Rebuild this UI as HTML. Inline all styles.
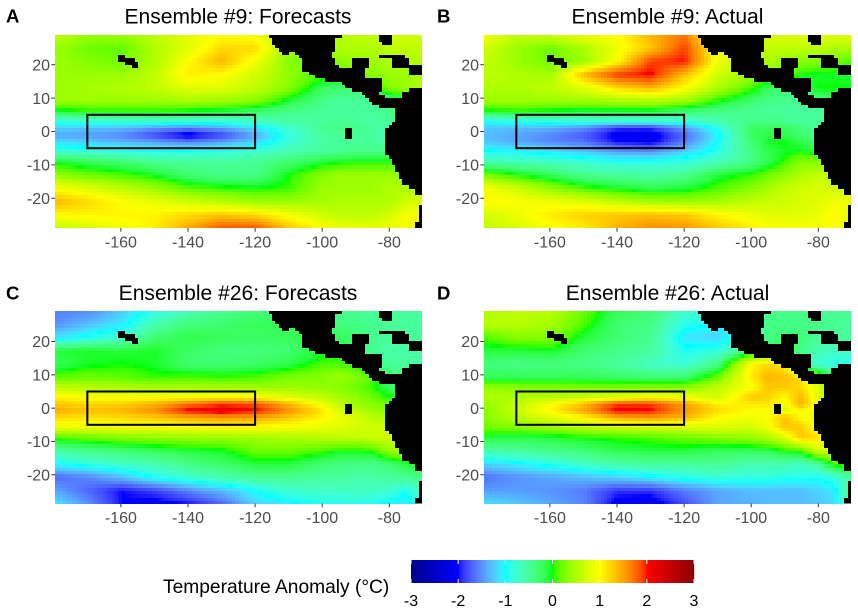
<!DOCTYPE html>
<html lang="en">
<head>
<meta charset="utf-8">
<title>Ensemble Temperature Anomaly Maps</title>
<style>
html,body{margin:0;padding:0;background:#fff;width:858px;height:616px;overflow:hidden}
svg{display:block;font-family:"Liberation Sans",Arial,sans-serif}
.title{font-size:21.05px;fill:#000;text-anchor:middle}
.tag{font-size:18.5px;font-weight:bold;fill:#000}
.tick-label{font-size:16px;fill:#4d4d4d}
.legend-label{font-size:16px;fill:#000;text-anchor:middle}
</style>
</head>
<body>
<svg id="chart" width="858" height="616" viewBox="0 0 858 616" xmlns="http://www.w3.org/2000/svg">
  <text class="tag" x="6" y="22.7">A</text>
  <text class="tag" x="437" y="22.7">B</text>
  <text class="tag" x="6" y="299.5">C</text>
  <text class="tag" x="437" y="299.5">D</text>
  <text class="title" x="238" y="23.3">Ensemble #9: Forecasts</text>
  <text class="title" x="667.5" y="23.3">Ensemble #9: Actual</text>
  <text class="title" x="238" y="300">Ensemble #26: Forecasts</text>
  <text class="title" x="667.5" y="300">Ensemble #26: Actual</text>
  <text x="163" y="593" font-size="19.2" fill="#000">Temperature Anomaly (°C)</text>
</svg>
<script>
// Sampled grid: longitudes and latitudes of each value below
const lons = [-180,-170,-160,-150,-140,-130,-120,-110,-100,-95,-90,-85,-80,-75,-70];
const lats = [29,25,21,17,13,9,6,3,1,-1,-3,-6,-9,-13,-17,-21,-25,-29];
const xTicks = [-160,-140,-120,-100,-80];
const yTicks = [20,10,0,-10,-20];
const legendTicks = [-3,-2,-1,0,1,2,3];
const colorValues = [-3,-2,-1,0,1,2,3];
const colorHex = ['#00008b','#0000ff','#00ffff','#00ff00','#ffff00','#ff0000','#8b0000'];
const boxLons = [-170,-120];
const boxLats = [5,-5];

const valuesA = [
[.6,.4,.4,.6,.8,1.0,.9,.5,.5,.5,.6,.6,.7,.7,.7],
[.4,.2,.15,.5,.8,1.2,1.2,.4,.4,.5,.5,.5,.6,.6,.6],
[.4,.3,.2,.5,1.0,1.4,.9,.3,.2,.3,.4,.4,.5,.5,.5],
[.4,.4,.4,.6,1.1,1.0,.7,.35,.1,.2,.3,.3,.4,.4,.5],
[.4,.45,.5,.6,.8,.8,.6,.3,-.2,-.3,-.3,-.2,.3,.4,.5],
[.4,.4,.4,.4,.45,.4,.3,-.1,-.4,-.5,-.5,-.45,-.4,-.3,0],
[-.1,0,0,0,-.05,-.1,-.25,-.4,-.5,-.5,-.5,-.5,-.4,-.3,-.1],
[-.85,-.8,-.75,-.75,-.8,-.8,-.7,-.55,-.5,-.45,-.5,-.55,-.5,-.4,-.3],
[-1.2,-1.25,-1.3,-1.45,-1.55,-1.4,-1.1,-.75,-.45,-.4,-.4,-.5,-.6,-.5,-.4],
[-1.4,-1.45,-1.55,-1.85,-2.15,-1.85,-1.4,-.85,-.5,-.45,-.45,-.5,-.6,-.5,-.4],
[-1.15,-1.25,-1.35,-1.45,-1.6,-1.45,-1.2,-.8,-.55,-.5,-.5,-.5,-.55,-.5,-.4],
[-.75,-.8,-.85,-.9,-.9,-.85,-.75,-.6,-.5,-.45,-.4,-.4,-.4,-.3,-.2],
[-.05,-.2,-.3,-.45,-.5,-.5,-.45,-.3,-.1,-.05,0,0,0,.1,.1],
[.35,.2,.1,-.05,-.3,-.4,-.4,0,.3,.4,.4,.4,.4,.4,.4],
[.95,.8,.6,.4,.15,.05,0,.05,.4,.4,.4,.4,.5,.5,.5],
[1.4,1.2,1.0,.85,.7,.55,.4,.4,.45,.5,.5,.5,.5,.7,.8],
[1.0,1.05,1.05,1.05,1.2,1.3,1.2,.95,.7,.6,.6,.6,.7,.95,.9],
[.6,.75,.9,1.1,1.45,1.85,1.85,1.3,1.0,.9,.85,.85,.9,.95,.9]
];
const valuesB = [
[.95,.6,.7,.9,1.0,1.4,1.7,.8,.6,.75,.75,.8,.8,.8,.8],
[.7,.4,.2,.5,.9,1.3,1.9,.9,.6,.6,.6,.6,.6,.5,.5],
[.6,.4,.2,.4,1.0,1.9,2.0,.9,.5,.5,.4,.3,.3,.2,.1],
[.6,.5,.45,1.4,1.95,2.05,1.35,.7,.4,.3,.2,0,-.05,-.05,-.1],
[.5,.5,.6,.8,1.2,1.4,1.0,.5,.1,-.2,-.3,-.3,0,0,0],
[.4,.4,.4,.4,.45,.5,.4,0,-.3,-.4,-.45,-.45,-.4,-.3,-.2],
[-.05,0,-.05,-.1,-.1,-.1,-.3,-.4,-.45,-.5,-.5,-.5,-.5,-.4,-.3],
[-.95,-.9,-.85,-.85,-.85,-.85,-.8,-.6,-.4,-.4,-.45,-.5,-.5,-.4,-.3],
[-1.25,-1.3,-1.35,-1.5,-1.9,-1.9,-1.45,-.9,-.25,-.2,-.2,-.35,-.5,-.5,-.4],
[-1.3,-1.4,-1.55,-1.75,-2.1,-2.15,-1.7,-1.05,-.25,-.15,-.15,-.3,-.4,-.4,-.4],
[-1.25,-1.4,-1.55,-1.65,-2.0,-2.1,-1.6,-1.0,-.3,-.05,0,-.15,-.3,-.4,-.3],
[-.95,-1.0,-1.1,-1.25,-1.45,-1.5,-1.2,-.9,-.4,-.15,-.05,0,-.1,-.2,-.2],
[-.6,-.65,-.7,-.8,-.9,-.9,-.85,-.65,-.4,-.2,.05,.3,.3,.2,.1],
[.25,0,-.2,-.45,-.5,-.55,-.45,-.1,.05,.2,.35,.5,.6,.6,.6],
[.95,.7,.35,.1,-.05,-.15,-.1,.1,.3,.45,.6,.7,.75,.7,.7],
[1.05,.95,.9,.8,.6,.45,.4,.45,.6,.65,.7,.75,.8,.9,.9],
[.7,.9,1.1,1.25,1.3,1.35,1.3,1.05,.9,.8,.8,.8,.85,1.05,.8],
[.6,.75,.95,1.1,1.4,1.6,1.55,1.3,1.1,1.0,.95,.95,.95,1.0,.8]
];
const valuesC = [
[-1.6,-1.55,-1.25,-.9,-.65,-.45,-.35,-.3,-.35,-.4,-.45,-.5,-.5,-.5,-.5],
[-1.5,-1.3,-1.1,-.6,-.35,-.3,-.2,-.2,-.3,-.35,-.4,-.45,-.5,-.5,-.5],
[-1.15,-.95,-.75,-.3,-.15,-.2,-.25,-.2,-.1,-.2,-.3,-.4,-.5,-.5,-.5],
[-.1,-.05,-.1,-.05,-.25,-.35,-.35,-.3,-.1,-.1,-.2,-.45,-.55,-.55,-.55],
[-.2,-.05,0,-.05,-.3,-.3,-.25,-.15,.1,.1,0,-.4,-.5,-.5,-.5],
[.15,.2,.15,.05,.1,.05,.1,.25,.3,.4,.3,.15,-.2,-.4,-.4],
[.6,.55,.5,.45,.45,.45,.4,.4,.35,.3,.2,.05,-.2,-.3,-.3],
[1.05,.95,.95,.95,1.0,1.05,1.0,.8,.6,.45,.35,.2,0,-.1,-.2],
[1.3,1.2,1.25,1.4,1.7,1.9,1.85,1.4,.9,.6,.4,.3,.2,0,-.1],
[1.45,1.35,1.4,1.6,2.1,2.2,2.05,1.6,1.15,.75,.6,.4,.3,.2,.1],
[1.2,1.15,1.2,1.3,1.45,1.55,1.5,1.3,1.05,.9,.75,.55,.5,.3,.2],
[.9,.85,.9,.9,.95,1.0,1.0,.95,.85,.8,.75,.7,.65,.5,.3],
[.1,.2,.3,.35,.4,.4,.45,.5,.55,.6,.6,.65,.7,.5,.3],
[-.55,-.4,-.3,-.2,-.1,-.05,.2,.2,.1,0,0,.05,.4,.5,.4],
[-1.0,-.85,-.7,-.6,-.4,-.25,-.1,-.1,-.3,-.35,-.4,-.4,-.3,-.1,0],
[-1.7,-1.55,-1.3,-.95,-.75,-.6,-.45,-.45,-.5,-.5,-.55,-.55,-.5,-.45,-.4],
[-1.4,-1.7,-2.0,-1.85,-1.55,-1.3,-1.0,-.75,-.7,-.7,-.7,-.7,-.75,-.95,-.7],
[-1.1,-1.5,-2.0,-2.1,-2.0,-1.7,-1.2,-1.05,-.95,-.95,-.9,-.95,-1.05,-1.1,-.8]
];
const valuesD = [
[.5,.6,.55,.2,-.2,-.3,-.7,-.8,-.6,-.4,-.4,-.4,-.45,-.45,-.45],
[.55,.55,.45,.1,-.3,-.4,-.9,-1.0,-.7,-.4,-.4,-.4,-.4,-.45,-.5],
[.1,.3,.3,-.1,-.3,-.45,-1.1,-1.2,-.7,-.4,-.3,-.3,-.5,-.5,-.5],
[-.1,-.1,-.05,-.3,-.4,-.5,-.95,-.85,-.3,-.2,-.2,-.4,-.6,-.7,-.7],
[-.35,-.4,-.35,-.4,-.5,-.7,-.8,-.4,1.0,1.2,1.1,-.5,-.8,-.9,-.9],
[-.2,-.2,-.2,-.2,-.25,-.3,-.3,.2,1.1,1.4,1.35,1.2,.5,-.2,-.2],
[.35,.3,.3,.25,.25,.3,.3,.6,.95,1.3,1.3,1.2,.8,.2,0],
[.5,.5,.55,.65,.8,.95,.9,.7,1.3,1.25,1.0,1.4,.8,.3,0],
[.35,.6,.95,1.35,1.9,1.9,1.5,1.05,1.1,1.15,.9,1.45,.9,.4,.1],
[.3,.65,1.05,1.5,2.1,2.05,1.55,1.2,1.0,.95,.8,1.0,.9,.5,.1],
[.3,.55,.8,1.05,1.45,1.55,1.4,1.0,.9,1.0,1.35,1.0,.8,.5,.1],
[.2,.3,.4,.55,.65,.7,.75,.8,.7,.9,1.3,1.3,.9,.5,.1],
[-.1,-.15,-.1,0,.05,.1,.2,.3,.4,.5,.8,1.3,1.2,.5,.1],
[-.55,-.5,-.4,-.3,-.15,-.1,-.1,-.2,-.2,-.15,0,.1,.7,.7,.2],
[-1.2,-1.05,-.9,-.7,-.55,-.5,-.5,-.45,-.6,-.6,-.6,-.7,-.5,.1,.2],
[-1.65,-1.5,-1.4,-1.3,-1.2,-1.05,-.9,-.8,-.85,-.85,-.9,-.9,-.95,-.85,-.5],
[-1.45,-1.45,-1.5,-1.6,-1.9,-1.9,-1.6,-1.4,-1.3,-1.3,-1.3,-1.3,-1.2,-1.1,-.3],
[-1.1,-1.25,-1.4,-1.55,-2.1,-2.15,-1.8,-1.4,-1.35,-1.3,-1.3,-1.3,-1.25,-1.15,-.4]
];

// Land mask on the 1-degree tile grid (row 0 = northernmost)
const coastStart = [64,65,65,66,67,72,73,74,74,74,74,76,78,81,86,87,89,92,93,94,95,97,102,102,102,102,101,100,99,99,99,99,99,99,99,99,100,101,101,102,102,103,103,104,104,106,108,108,110,110,110,109,109,109,109,109,108,108];
const caribbeanWater = [
[0,86,97],[0,101,110],[1,84,97],[1,101,110],[2,84,98],[2,101,110],[3,84,110],[4,84,110],[5,83,110],
[6,83,97],[6,105,110],[7,84,89],[7,94,101],[7,106,110],[8,84,89],[8,94,101],[8,106,110],[9,85,89],[9,94,101],
[10,93,106],[11,93,106],[12,93,110],[13,98,110],[14,98,110],[15,98,110],[16,98,106],[17,97,104],[18,99,104]
];
const islands = [[5,68,70],[6,19,21],[7,19,24],[8,21,25],[9,23,25],[28,87,89],[29,87,89],[30,87,89]];

const svg = document.getElementById('chart');
const NS = 'http://www.w3.org/2000/svg';

function isLand(r, c) {
  for (const s of islands) { if (s[0] === r && c >= s[1] && c < s[2]) return true; }
  if (c < coastStart[r]) return false;
  for (const s of caribbeanWater) { if (s[0] === r && c >= s[1] && c < s[2]) return false; }
  return true;
}

// Lab colour interpolation between the palette stops
function hexToLab(h) {
  const v = [1,3,5].map(i => parseInt(h.substr(i,2),16)/255).map(u => u <= .04045 ? u/12.92 : Math.pow((u+.055)/1.055,2.4));
  const X = (.4124564*v[0]+.3575761*v[1]+.1804375*v[2])/.95047;
  const Y = .2126729*v[0]+.7151522*v[1]+.072175*v[2];
  const Z = (.0193339*v[0]+.119192*v[1]+.9503041*v[2])/1.08883;
  const f = t => t > .008856 ? Math.cbrt(t) : 7.787*t+16/116;
  return [116*f(Y)-16, 500*(f(X)-f(Y)), 200*(f(Y)-f(Z))];
}
function labToCss(L) {
  const fy = (L[0]+16)/116, fx = fy+L[1]/500, fz = fy-L[2]/200;
  const g = t => t*t*t > .008856 ? t*t*t : (t-16/116)/7.787;
  const X = g(fx)*.95047, Y = g(fy), Z = g(fz)*1.08883;
  const lin = [3.2404542*X-1.5371385*Y-.4985314*Z, -.969266*X+1.8760108*Y+.041556*Z, .0556434*X-.2040259*Y+1.0572252*Z];
  const c = lin.map(u => { const w = u <= .0031308 ? 12.92*u : 1.055*Math.pow(Math.max(u,0),1/2.4)-.055; return Math.round(Math.min(1,Math.max(0,w))*255); });
  return 'rgb('+c[0]+','+c[1]+','+c[2]+')';
}
const colorLab = colorHex.map(hexToLab);
function fillFor(v) {
  const t = Math.max(colorValues[0], Math.min(colorValues[colorValues.length-1], v));
  let i = 0;
  while (i < colorValues.length-2 && t > colorValues[i+1]) i++;
  const k = (t-colorValues[i])/(colorValues[i+1]-colorValues[i]);
  return labToCss(colorLab[i].map((a,j) => a+(colorLab[i+1][j]-a)*k));
}

// Value at a point of the field
function sample(values, lon, lat) {
  let i = 0; while (i < lons.length-2 && lon > lons[i+1]) i++;
  let j = 0; while (j < lats.length-2 && lat < lats[j+1]) j++;
  const u = Math.max(0, Math.min(1, (lon-lons[i])/(lons[i+1]-lons[i])));
  const w = Math.max(0, Math.min(1, (lat-lats[j])/(lats[j+1]-lats[j])));
  return (values[j][i]*(1-u)+values[j][i+1]*u)*(1-w)+(values[j+1][i]*(1-u)+values[j+1][i+1]*u)*w;
}

function drawPanel(id, values, left, top, right, bottom, tickShift) {
  const xScale = lon => left+(lon+180)*(right-left)/110;
  const yScale = lat => top+(28.9-lat)*(bottom-top)/57.8;
  const xAxis = lon => left-1.2+(lon+180)*3.355;
  const yAxis = lat => yScale(lat)+tickShift;
  const g = document.createElementNS(NS,'g');
  
  
  svg.appendChild(g);

  const bg = document.createElementNS(NS,'rect');
  
  
  bg.setAttribute('x', left); bg.setAttribute('y', top);
  bg.setAttribute('width', right-left); bg.setAttribute('height', bottom-top);
  bg.setAttribute('fill', '#000');
  g.appendChild(bg);

  for (let r = 0; r < 58; r++) {
    const y0 = Math.round(r === 0 ? top : yScale(28.9-r));
    const y1 = Math.round(r === 57 ? bottom : yScale(27.9-r));
    for (let c = 0; c < 110; c++) {
      if (isLand(r, c)) continue;
      const x0 = Math.round(xScale(-180+c));
      const x1 = Math.round(xScale(-179+c));
      const cell = document.createElementNS(NS,'rect');
      
      
      cell.setAttribute('x', x0); cell.setAttribute('y', y0);
      cell.setAttribute('width', x1-x0); cell.setAttribute('height', y1-y0);
      cell.setAttribute('fill', fillFor(sample(values, -179.5+c, 28.4-r)));
      g.appendChild(cell);
    }
  }

  const box = document.createElementNS(NS,'rect');
  
  
  box.setAttribute('x', xAxis(boxLons[0])); box.setAttribute('y', yAxis(boxLats[0]));
  box.setAttribute('width', xAxis(boxLons[1])-xAxis(boxLons[0]));
  box.setAttribute('height', yAxis(boxLats[1])-yAxis(boxLats[0]));
  box.setAttribute('fill', 'none'); box.setAttribute('stroke', '#000'); box.setAttribute('stroke-width', '2');
  g.appendChild(box);

  xTicks.forEach(t => {
    const px = xAxis(t);
    const mark = document.createElementNS(NS,'line');
    
    
    mark.setAttribute('x1', px); mark.setAttribute('x2', px);
    mark.setAttribute('y1', bottom); mark.setAttribute('y2', bottom+3.7);
    mark.setAttribute('stroke', '#333'); mark.setAttribute('stroke-width', '1');
    g.appendChild(mark);
    const label = document.createElementNS(NS,'text');
    
    
    label.setAttribute('class', 'tick-label');
    label.setAttribute('x', px); label.setAttribute('y', bottom+19.5);
    label.setAttribute('text-anchor', 'middle');
    label.textContent = t;
    g.appendChild(label);
  });
  yTicks.forEach(t => {
    const py = yAxis(t);
    const mark = document.createElementNS(NS,'line');
    
    
    mark.setAttribute('x1', left-3.7); mark.setAttribute('x2', left);
    mark.setAttribute('y1', py); mark.setAttribute('y2', py);
    mark.setAttribute('stroke', '#333'); mark.setAttribute('stroke-width', '1');
    g.appendChild(mark);
    const label = document.createElementNS(NS,'text');
    
    
    label.setAttribute('class', 'tick-label');
    label.setAttribute('x', left-5); label.setAttribute('y', py+5.7);
    label.setAttribute('text-anchor', 'end');
    label.textContent = t;
    g.appendChild(label);
  });
}

drawPanel('a', valuesA, 55, 35, 422, 228, 0);
drawPanel('b', valuesB, 484, 35, 851, 228, 0);
drawPanel('c', valuesC, 55, 311, 422, 503.5, 0.9);
drawPanel('d', valuesD, 484, 311, 851, 503.5, 0.9);

// Colour bar legend
function drawLegend(left, right, top, bottom) {
  const scale = v => left+(v+3)*(right-left)/6;
  const g = document.createElementNS(NS,'g');
  
  
  svg.appendChild(g);
  for (let px = Math.round(left); px < Math.round(right); px++) {
    const strip = document.createElementNS(NS,'rect');
    
    
    strip.setAttribute('x', px); strip.setAttribute('y', top);
    strip.setAttribute('width', 1.2); strip.setAttribute('height', bottom-top);
    strip.setAttribute('fill', fillFor((px+.5-left)/(right-left)*6-3));
    g.appendChild(strip);
  }
  legendTicks.forEach(t => {
    const px = scale(t);
    [[top, top+4],[bottom-4, bottom]].forEach(ends => {
      const mark = document.createElementNS(NS,'line');
      
      
      mark.setAttribute('x1', px); mark.setAttribute('x2', px);
      mark.setAttribute('y1', ends[0]); mark.setAttribute('y2', ends[1]);
      mark.setAttribute('stroke', '#fff'); mark.setAttribute('stroke-width', '1');
      g.appendChild(mark);
    });
    const label = document.createElementNS(NS,'text');
    
    
    label.setAttribute('class', 'legend-label');
    label.setAttribute('x', px); label.setAttribute('y', 606);
    label.textContent = t;
    g.appendChild(label);
  });
}
drawLegend(411, 694, 560, 583);
</script>
</body>
</html>
